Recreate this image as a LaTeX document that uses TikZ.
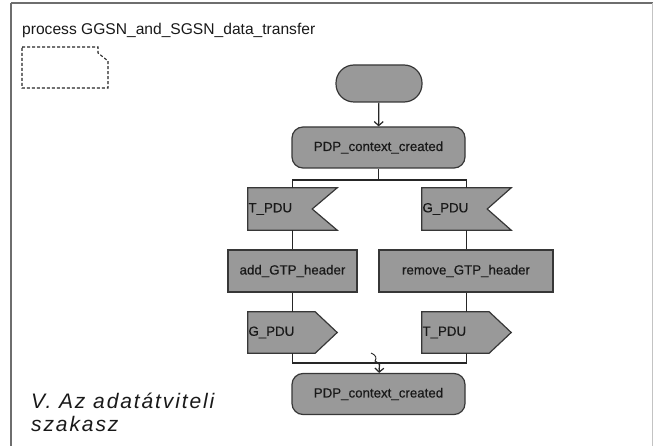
\documentclass[tikz,border=0pt]{standalone}
\usepackage{fontspec}
\setmainfont{Liberation Sans}
\newfontfamily\labelfont[FakeBold=0.4]{Liberation Sans}
\newfontfamily\captionfont[LetterSpace=9]{Liberation Sans}
\usetikzlibrary{arrows.meta}
\definecolor{boxfill}{RGB}{153,153,153}
\definecolor{boxedge}{RGB}{55,55,55}
\definecolor{frameline}{RGB}{110,110,110}
\definecolor{framelight}{RGB}{195,195,195}

\begin{document}
\begin{tikzpicture}[x=1pt,y=-1pt,
  every node/.style={font=\labelfont\fontsize{13.3}{15}\selectfont, inner sep=0pt, text=black!90},
  shapeline/.style={draw=boxedge, fill=boxfill, line width=1.2pt},
  statebox/.style={shapeline, rounded corners=11pt, minimum width=173pt, minimum height=41pt},
  startbox/.style={shapeline, rounded corners=18pt, minimum width=86pt, minimum height=37pt},
  taskbox/.style={shapeline, minimum height=42pt},
  sigarea/.style={minimum width=89pt, minimum height=42pt, text width=88pt, align=left},
  sigshape/.style={shapeline, line join=miter},
  flow/.style={line width=1.2pt, draw=black!85},
  flowarrow/.style={flow, -{Straight Barb[length=4pt,width=9pt]}}
]
\useasboundingbox (0,0) rectangle (653,446);

% process frame
\draw[frameline, line width=2pt] (11,3) -- (653,3);
\draw[frameline, line width=1.5pt] (11,3) -- (11,446);
\draw[framelight, line width=1pt] (652,3) -- (652,446);

\node[anchor=base west, font=\rmfamily\fontsize{15.6}{18}\selectfont] (title) at (22,35)
  {process GGSN\_and\_SGSN\_data\_transfer};

% dashed comment symbol
\draw[black!85, line width=1.1pt, dash pattern=on 3pt off 2pt]
  (22,47) -- (98,47) -- (98,53) -- (108,61) -- (108,88) -- (22,88) -- cycle;

% states
\node[startbox] (start) at (379,83.5) {};
\node[statebox] (pdpa) at (378.5,147.5) {PDP\_context\_created};
\node[statebox] (pdpb) at (378.5,394) {PDP\_context\_created};

% input signals
\node[sigarea] (tin) at (292.5,209) {};
\node[sigarea] (gin) at (466.5,209) {};
\draw[sigshape] (tin.north west) -- (tin.north east) -- ([xshift=-25pt]tin.east)
  -- (tin.south east) -- (tin.south west) -- cycle;
\draw[sigshape] (gin.north west) -- (gin.north east) -- ([xshift=-24pt]gin.east)
  -- (gin.south east) -- (gin.south west) -- cycle;
\node[sigarea] at (tin) {T\_PDU};
\node[sigarea] at (gin) {G\_PDU};

% tasks
\node[taskbox, minimum width=129pt] (addh) at (292.5,271) {add\_GTP\_header};
\node[taskbox, minimum width=174pt] (remh) at (466,271) {remove\_GTP\_header};

% output signals
\node[sigarea, minimum height=41pt] (gout) at (292.5,332.5) {};
\node[sigarea, minimum height=41pt] (tout) at (466.5,332.5) {};
\draw[sigshape] (gout.north west) -- ([xshift=-22pt]gout.north east) -- (gout.east)
  -- ([xshift=-22pt]gout.south east) -- (gout.south west) -- cycle;
\draw[sigshape] (tout.north west) -- ([xshift=-22pt]tout.north east) -- (tout.east)
  -- ([xshift=-22pt]tout.south east) -- (tout.south west) -- cycle;
\node[sigarea, minimum height=41pt] at (gout) {G\_PDU};
\node[sigarea, minimum height=41pt] at (tout) {T\_PDU};

% flow lines
\coordinate (split) at (378.5,180);
\coordinate (merge) at (379.5,363);
\draw[flowarrow] (start) -- (pdpa);
\draw[flow] (pdpa) -- (split);
\draw[flow] (tin.north) |- (split) -| (gin.north);
\draw[flow] (tin.south) -- (tin.south |- addh.north);
\draw[flow] (gin.south) -- (gin.south |- remh.north);
\draw[flow] (gout.north |- addh.south) -- (gout.north);
\draw[flow] (tout.north |- remh.south) -- (tout.north);
\draw[flow] (gout.south) |- (merge) -| (tout.south);
\draw[flowarrow] (merge) -- (pdpb);
\draw[black!85, line width=0.9pt] (371,353) .. controls (376,355) and (377,358) .. (375,361)
  .. controls (380,363) and (380,366) .. (379,369);

% caption
\node[anchor=north west, align=left, font=\captionfont\itshape\fontsize{21}{22.5}\selectfont]
  (caption) at (31,393) {V. Az adatátviteli\\szakasz};
\end{tikzpicture}
\end{document}
